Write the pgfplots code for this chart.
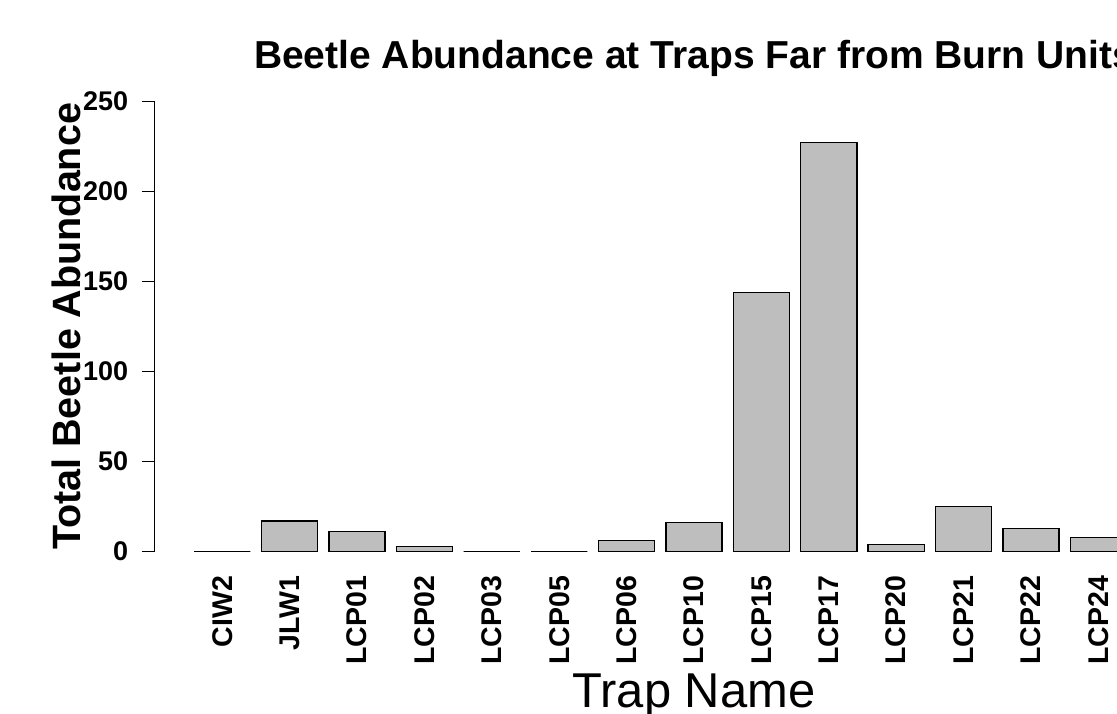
\documentclass[border=0pt]{standalone}
\usepackage{fontspec}
\setmainfont{Liberation Sans}
\usepackage{pgfplots}
\pgfplotsset{compat=1.18}
\definecolor{barfill}{RGB}{190,190,190}
\begin{document}
\begin{tikzpicture}[x=1pt,y=1pt]
\useasboundingbox (0,0) rectangle (1117,714);
\clip (0,0) rectangle (1117,714);
\begin{axis}[
at={(154.3pt,162.4pt)}, anchor=south west,
scale only axis, width=1079.4pt, height=450.3pt,
xmin=-0.51, xmax=18.71, ymin=0, ymax=250,
axis lines*=left,
x axis line style={draw=none},
y axis line style={-, line width=1.3pt},
xtick=data,
xticklabels={CIW2,JLW1,LCP01,LCP02,LCP03,LCP05,LCP06,LCP10,LCP15,LCP17,LCP20,LCP21,LCP22,LCP24},
xtick style={draw=none},
ytick={0,50,100,150,200,250},
ytick style={line width=1.3pt, black},
tick align=outside, major tick length=12.6pt,
/pgf/number format/assume math mode=true,
xticklabel style={font=\fontsize{28.5}{28.5}\selectfont\bfseries, yshift=-11.5pt, rotate=90, anchor=east, inner sep=0pt},
yticklabel style={font=\fontsize{27}{27}\selectfont\bfseries, xshift=-13.4pt, anchor=east, inner sep=0pt},
title={Beetle Abundance at Traps Far from Burn Units},
title style={at={(axis description cs:0.5,1.060)}, anchor=base, inner sep=0pt, font=\fontsize{39}{39}\selectfont\bfseries},
xlabel={Trap Name},
xlabel style={at={(axis description cs:0.5,-0.3458)}, anchor=base, inner sep=0pt, font=\fontsize{48.9}{48.9}\selectfont},
ylabel={Total Beetle Abundance},
every axis y label/.style={at={(axis description cs:-0.0680,0.5)}, rotate=90, anchor=base, inner sep=0pt, font=\fontsize{39.5}{39.5}\selectfont\bfseries},
clip=false,
]
\addplot [ybar, bar width=1, bar shift=0pt, fill=barfill, draw=black, line width=1.3pt]
coordinates {
(0.7,0) (1.9,17) (3.1,11) (4.3,3) (5.5,0) (6.7,0) (7.9,6)
(9.1,16) (10.3,144) (11.5,227) (12.7,4) (13.9,25) (15.1,13) (16.3,8)
};
\end{axis}
\end{tikzpicture}
\end{document}
